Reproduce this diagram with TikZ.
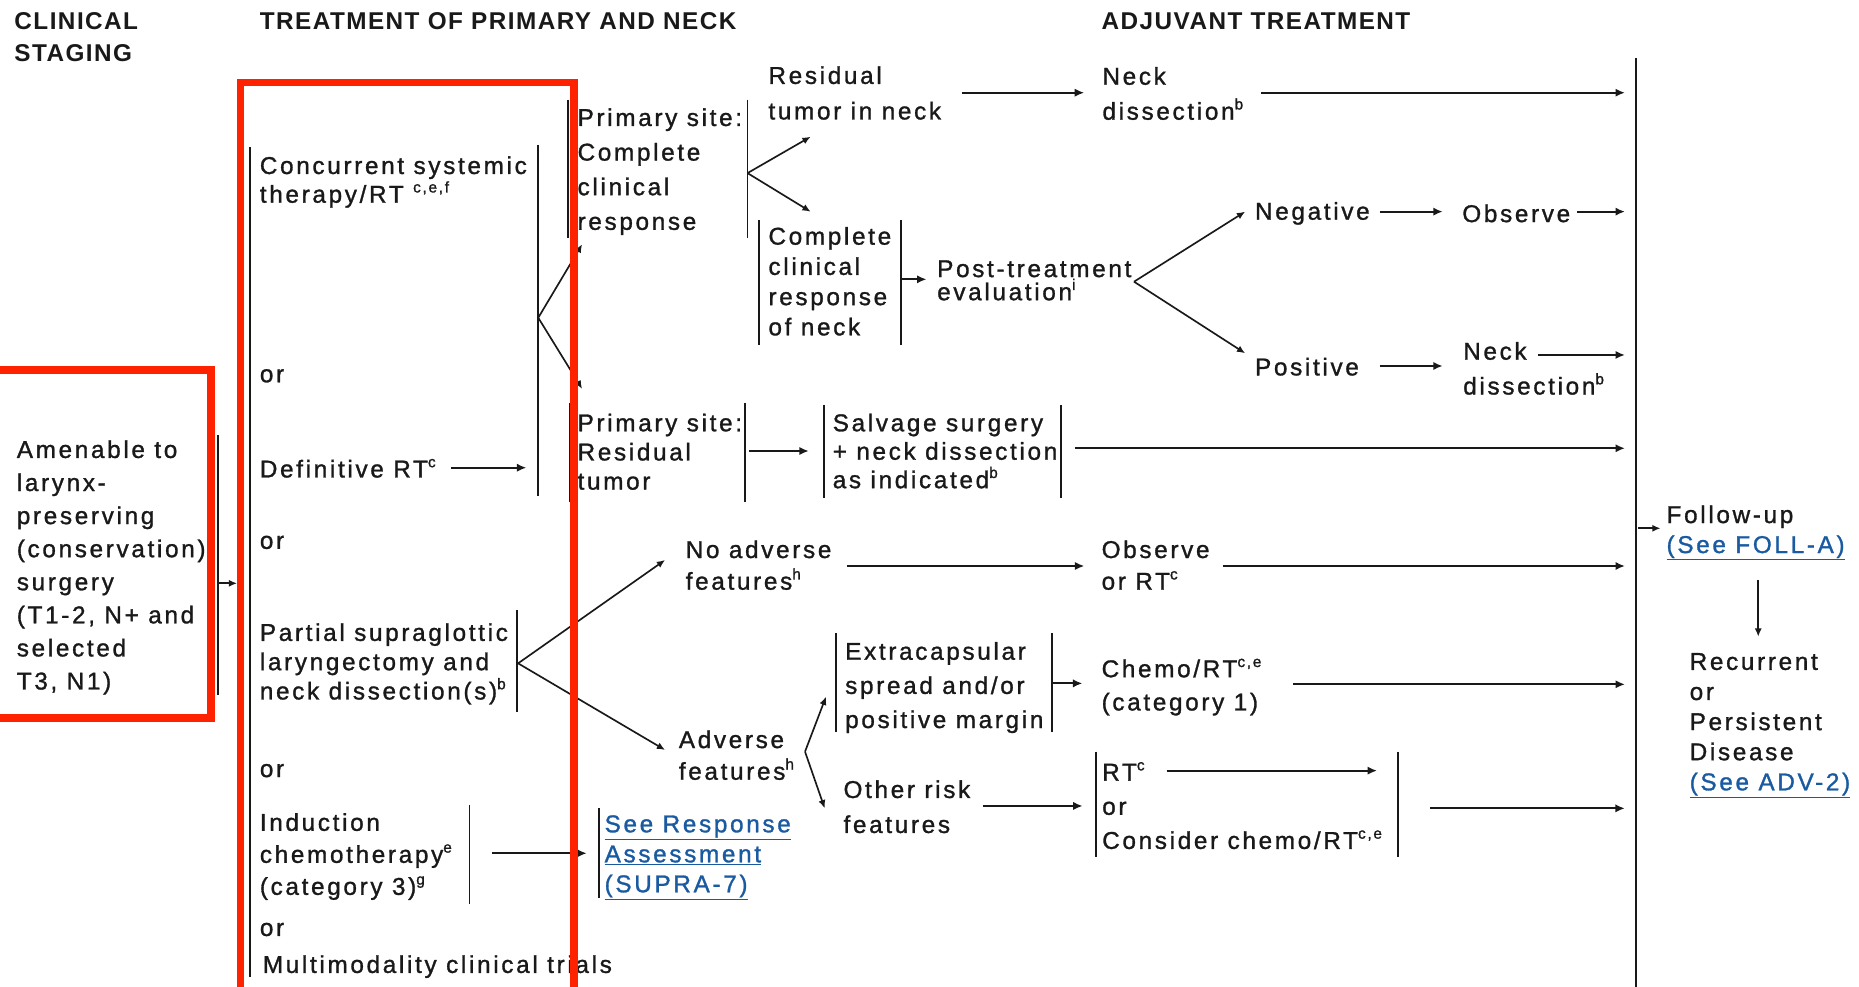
\documentclass[tikz,border=0pt]{standalone}
\usepackage{fontspec}
\setmainfont{Liberation Sans}[LetterSpace=11,FakeBold=1.2]
\newfontfamily\hdfont{Liberation Sans}[LetterSpace=6]
\usetikzlibrary{arrows.meta}
\definecolor{ink}{RGB}{25,25,25}
\definecolor{linkblue}{RGB}{25,90,160}
\definecolor{redbox}{RGB}{255,34,0}
\newcommand\spx[1]{\raisebox{0.42em}{\fontsize{13}{13}\selectfont #1}}
\newcommand\lk[1]{{\color{linkblue}\underline{#1}}}
\begin{document}
\begin{tikzpicture}[x=1pt,y=-1pt,
 tx/.style={anchor=north west,inner sep=0pt,align=left,text=ink,font=\fontsize{20.5}{#1}\selectfont},
 tx/.default=24,
 one/.style={anchor=west,inner sep=0pt,text=ink,font=\fontsize{20.5}{24}\selectfont},
 hd/.style={anchor=north west,inner sep=0pt,align=left,text=ink,font=\hdfont\bfseries\fontsize{20.5}{27}\selectfont},
 bar/.style={draw=ink,line width=1.6pt},
 arr/.style={draw=ink,line width=1.8pt,-{Latex[length=8pt,width=7pt]}},
 sarr/.style={draw=ink,line width=1.4pt,-{Latex[length=7pt,width=6pt]}},
 redframe/.style={draw=redbox,line width=6.5pt}
]
\useasboundingbox (0,0) rectangle (1568,832);
% headers
\node[hd] (hclin) at (12,10.7) {CLINICAL\\STAGING};
\node[hd] (htreat) at (219,10.7) {TREATMENT OF PRIMARY AND NECK};
\node[hd] (hadj) at (929,10.7) {ADJUVANT TREATMENT};
% text nodes
\node[tx=27.9] (stage) at (14,371.2) {Amenable to\\larynx-\\preserving\\(conservation)\\surgery\\(T1-2, N+ and\\selected\\T3, N1)};
\node[tx=24.2] (conc) at (219,131.7) {Concurrent systemic\\therapy/RT \spx{c,e,f}};
\node[one] (or1) at (219,317) {or};
\node[one] (defrt) at (219,395) {Definitive RT\spx{c}};
\node[one] (or2) at (219,457.5) {or};
\node[tx=24.7] (partial) at (219,525.5) {Partial supraglottic\\laryngectomy and\\neck dissection(s)\spx{b}};
\node[one] (or3) at (219,650) {or};
\node[tx=27] (induc) at (219,685.7) {Induction\\chemotherapy\spx{e}\\(category 3)\spx{g}};
\node[one] (or4) at (219,784) {or};
\node[one] (multi) at (221.5,815.3) {Multimodality clinical trials};
\node[tx=29.2] (pcr) at (487,91.2) {Primary site:\\Complete\\clinical\\response};
\node[tx=30] (resneck) at (648,55.7) {Residual\\tumor in neck};
\node[tx=29.5] (nd1) at (929.7,56.4) {Neck\\dissection\spx{b}};
\node[tx=25.5] (ccrn) at (648,191.3) {Complete\\clinical\\response\\of neck};
\node[tx=19.5] (pte) at (790.3,219.4) {Post-treatment\\evaluation\spx{i}};
\node[one] (neg) at (1058.4,180) {Negative};
\node[one] (obs1) at (1233.2,180) {Observe};
\node[one] (pos) at (1058.4,309.3) {Positive};
\node[tx=29.4] (nd2) at (1234,288.3) {Neck\\dissection\spx{b}};
\node[tx=24.6] (psrt) at (487,348.7) {Primary site:\\Residual\\tumor};
\node[tx=24] (salv) at (702.2,348.7) {Salvage surgery\\+ neck dissection\\as indicated\spx{b}};
\node[tx=26.7] (noadv) at (578.2,455.6) {No adverse\\features\spx{h}};
\node[tx=26.7] (obsrt) at (929,455.6) {Observe\\or RT\spx{c}};
\node[tx=26.7] (adv) at (572.4,615.9) {Adverse\\features\spx{h}};
\node[tx=28.8] (extra) at (712.7,541.4) {Extracapsular\\spread and/or\\positive margin};
\node[tx=28] (chemo1) at (929,555.4) {Chemo/RT\spx{c,e}\\(category 1)};
\node[tx=29.5] (other) at (711.3,658) {Other risk\\features};
\node[tx=28.8] (rtbox) at (929.5,642.6) {RT\spx{c}\\or\\Consider chemo/RT\spx{c,e}};
\node[tx=25.3] (seeresp) at (509.8,687.5) {\lk{See Response}\\\lk{Assessment}\\\lk{(SUPRA-7)}};
\node[tx=25.3] (follow) at (1405.5,426.1) {Follow-up\\\lk{(See FOLL-A)}};
\node[tx=25.4] (recur) at (1425,550.7) {Recurrent\\or\\Persistent\\Disease\\\lk{(See ADV-2)}};
% bars
\draw[bar] (184,367) -- (184,586);
\draw[bar] (211,124) -- (211,824);
\draw[bar] (453.6,122) -- (453.6,418);
\draw[bar] (479,84) -- (479,201);
\draw[bar] (630.5,84) -- (630.5,201);
\draw[bar] (640,185.6) -- (640,291);
\draw[bar] (760.3,185.6) -- (760.3,291);
\draw[bar] (480.5,340) -- (480.5,423);
\draw[bar] (628.2,339.6) -- (628.2,423);
\draw[bar] (695,341.6) -- (695,420.3);
\draw[bar] (894.6,341.6) -- (894.6,420.3);
\draw[bar] (436.2,514.5) -- (436.2,600.3);
\draw[bar] (705.4,534) -- (705.4,617.1);
\draw[bar] (887.1,534) -- (887.1,617.1);
\draw[bar] (924.8,634) -- (924.8,722.6);
\draw[bar] (1179,634) -- (1179,722.6);
\draw[bar] (396,679) -- (396,762.5);
\draw[bar] (505.6,681.8) -- (505.6,757.7);
\draw[bar] (1380,49.2) -- (1380,840);
% connector end points
\coordinate (s1) at (184,492);      \coordinate (e1) at (200,492);
\coordinate (s2) at (380,394.5);    \coordinate (e2) at (444,394.5);
\coordinate (fk1) at (454,268);     \coordinate (fk1a) at (491,206); \coordinate (fk1b) at (491,328);
\coordinate (fk2) at (630.5,146);   \coordinate (fk2a) at (683.8,115.3); \coordinate (fk2b) at (683.8,178.6);
\coordinate (s3) at (811,78.2);     \coordinate (e3) at (914.5,78.2);
\coordinate (s4) at (1063.6,78.2);  \coordinate (e4) at (1370.6,78.2);
\coordinate (s5) at (760.3,235.6);  \coordinate (e5) at (781.5,235.6);
\coordinate (fk3) at (956.5,237.6); \coordinate (fk3a) at (1050.3,178.5); \coordinate (fk3b) at (1050.3,298);
\coordinate (s6) at (1163.8,178.5); \coordinate (e6) at (1216.9,178.5);
\coordinate (s7) at (1330,178.5);   \coordinate (e7) at (1370.6,178.5);
\coordinate (s8) at (1163.8,308.7); \coordinate (e8) at (1216.9,308.7);
\coordinate (s9) at (1297.3,299.4); \coordinate (e9) at (1370.6,299.4);
\coordinate (s10) at (632,380.4);   \coordinate (e10) at (682.2,380.4);
\coordinate (s11) at (906.5,378.1); \coordinate (e11) at (1370.6,378.1);
\coordinate (fk4) at (437,559.5);   \coordinate (fk4a) at (561,472.3); \coordinate (fk4b) at (561,632.6);
\coordinate (s12) at (714.4,477.4); \coordinate (e12) at (914.6,477.4);
\coordinate (s13) at (1031.9,477.4);\coordinate (e13) at (1370.6,477.4);
\coordinate (fk5) at (679,634);     \coordinate (fk5a) at (696.7,587.6); \coordinate (fk5b) at (695.6,681.8);
\coordinate (s14) at (887.1,576.4); \coordinate (e14) at (913,576.4);
\coordinate (s15) at (1091,577.2);  \coordinate (e15) at (1370.6,577.2);
\coordinate (s16) at (829,679.8);   \coordinate (e16) at (913.2,679.8);
\coordinate (s17) at (984,650);     \coordinate (e17) at (1161.5,650);
\coordinate (s18) at (1206.2,681.8);\coordinate (e18) at (1370.5,681.8);
\coordinate (s19) at (415.3,719.7); \coordinate (e19) at (494.9,719.7);
\coordinate (s20) at (1381.6,445.6);\coordinate (e20) at (1400.6,445.6);
\coordinate (s21) at (1483,489.2);  \coordinate (e21) at (1483,537);
% connectors
\draw[sarr] (s1) -- (e1);
\draw[arr] (s2) -- (e2);
\draw[sarr] (fk1) -- (fk1a);
\draw[sarr] (fk1) -- (fk1b);
\draw[sarr] (fk2) -- (fk2a);
\draw[sarr] (fk2) -- (fk2b);
\draw[arr] (s3) -- (e3);
\draw[arr] (s4) -- (e4);
\draw[arr] (s5) -- (e5);
\draw[sarr] (fk3) -- (fk3a);
\draw[sarr] (fk3) -- (fk3b);
\draw[arr] (s6) -- (e6);
\draw[arr] (s7) -- (e7);
\draw[arr] (s8) -- (e8);
\draw[arr] (s9) -- (e9);
\draw[arr] (s10) -- (e10);
\draw[arr] (s11) -- (e11);
\draw[sarr] (fk4) -- (fk4a);
\draw[sarr] (fk4) -- (fk4b);
\draw[arr] (s12) -- (e12);
\draw[arr] (s13) -- (e13);
\draw[sarr] (fk5) -- (fk5a);
\draw[sarr] (fk5) -- (fk5b);
\draw[arr] (s14) -- (e14);
\draw[arr] (s15) -- (e15);
\draw[arr] (s16) -- (e16);
\draw[arr] (s17) -- (e17);
\draw[arr] (s18) -- (e18);
\draw[arr] (s19) -- (e19);
\draw[sarr] (s20) -- (e20);
\draw[sarr] (s21) -- (e21);
% red frames
\draw[redframe] (202.8,69.6) rectangle (483.9,836);
\draw[redframe] (-10,311.8) rectangle (177.7,605.6);
\end{tikzpicture}
\end{document}
